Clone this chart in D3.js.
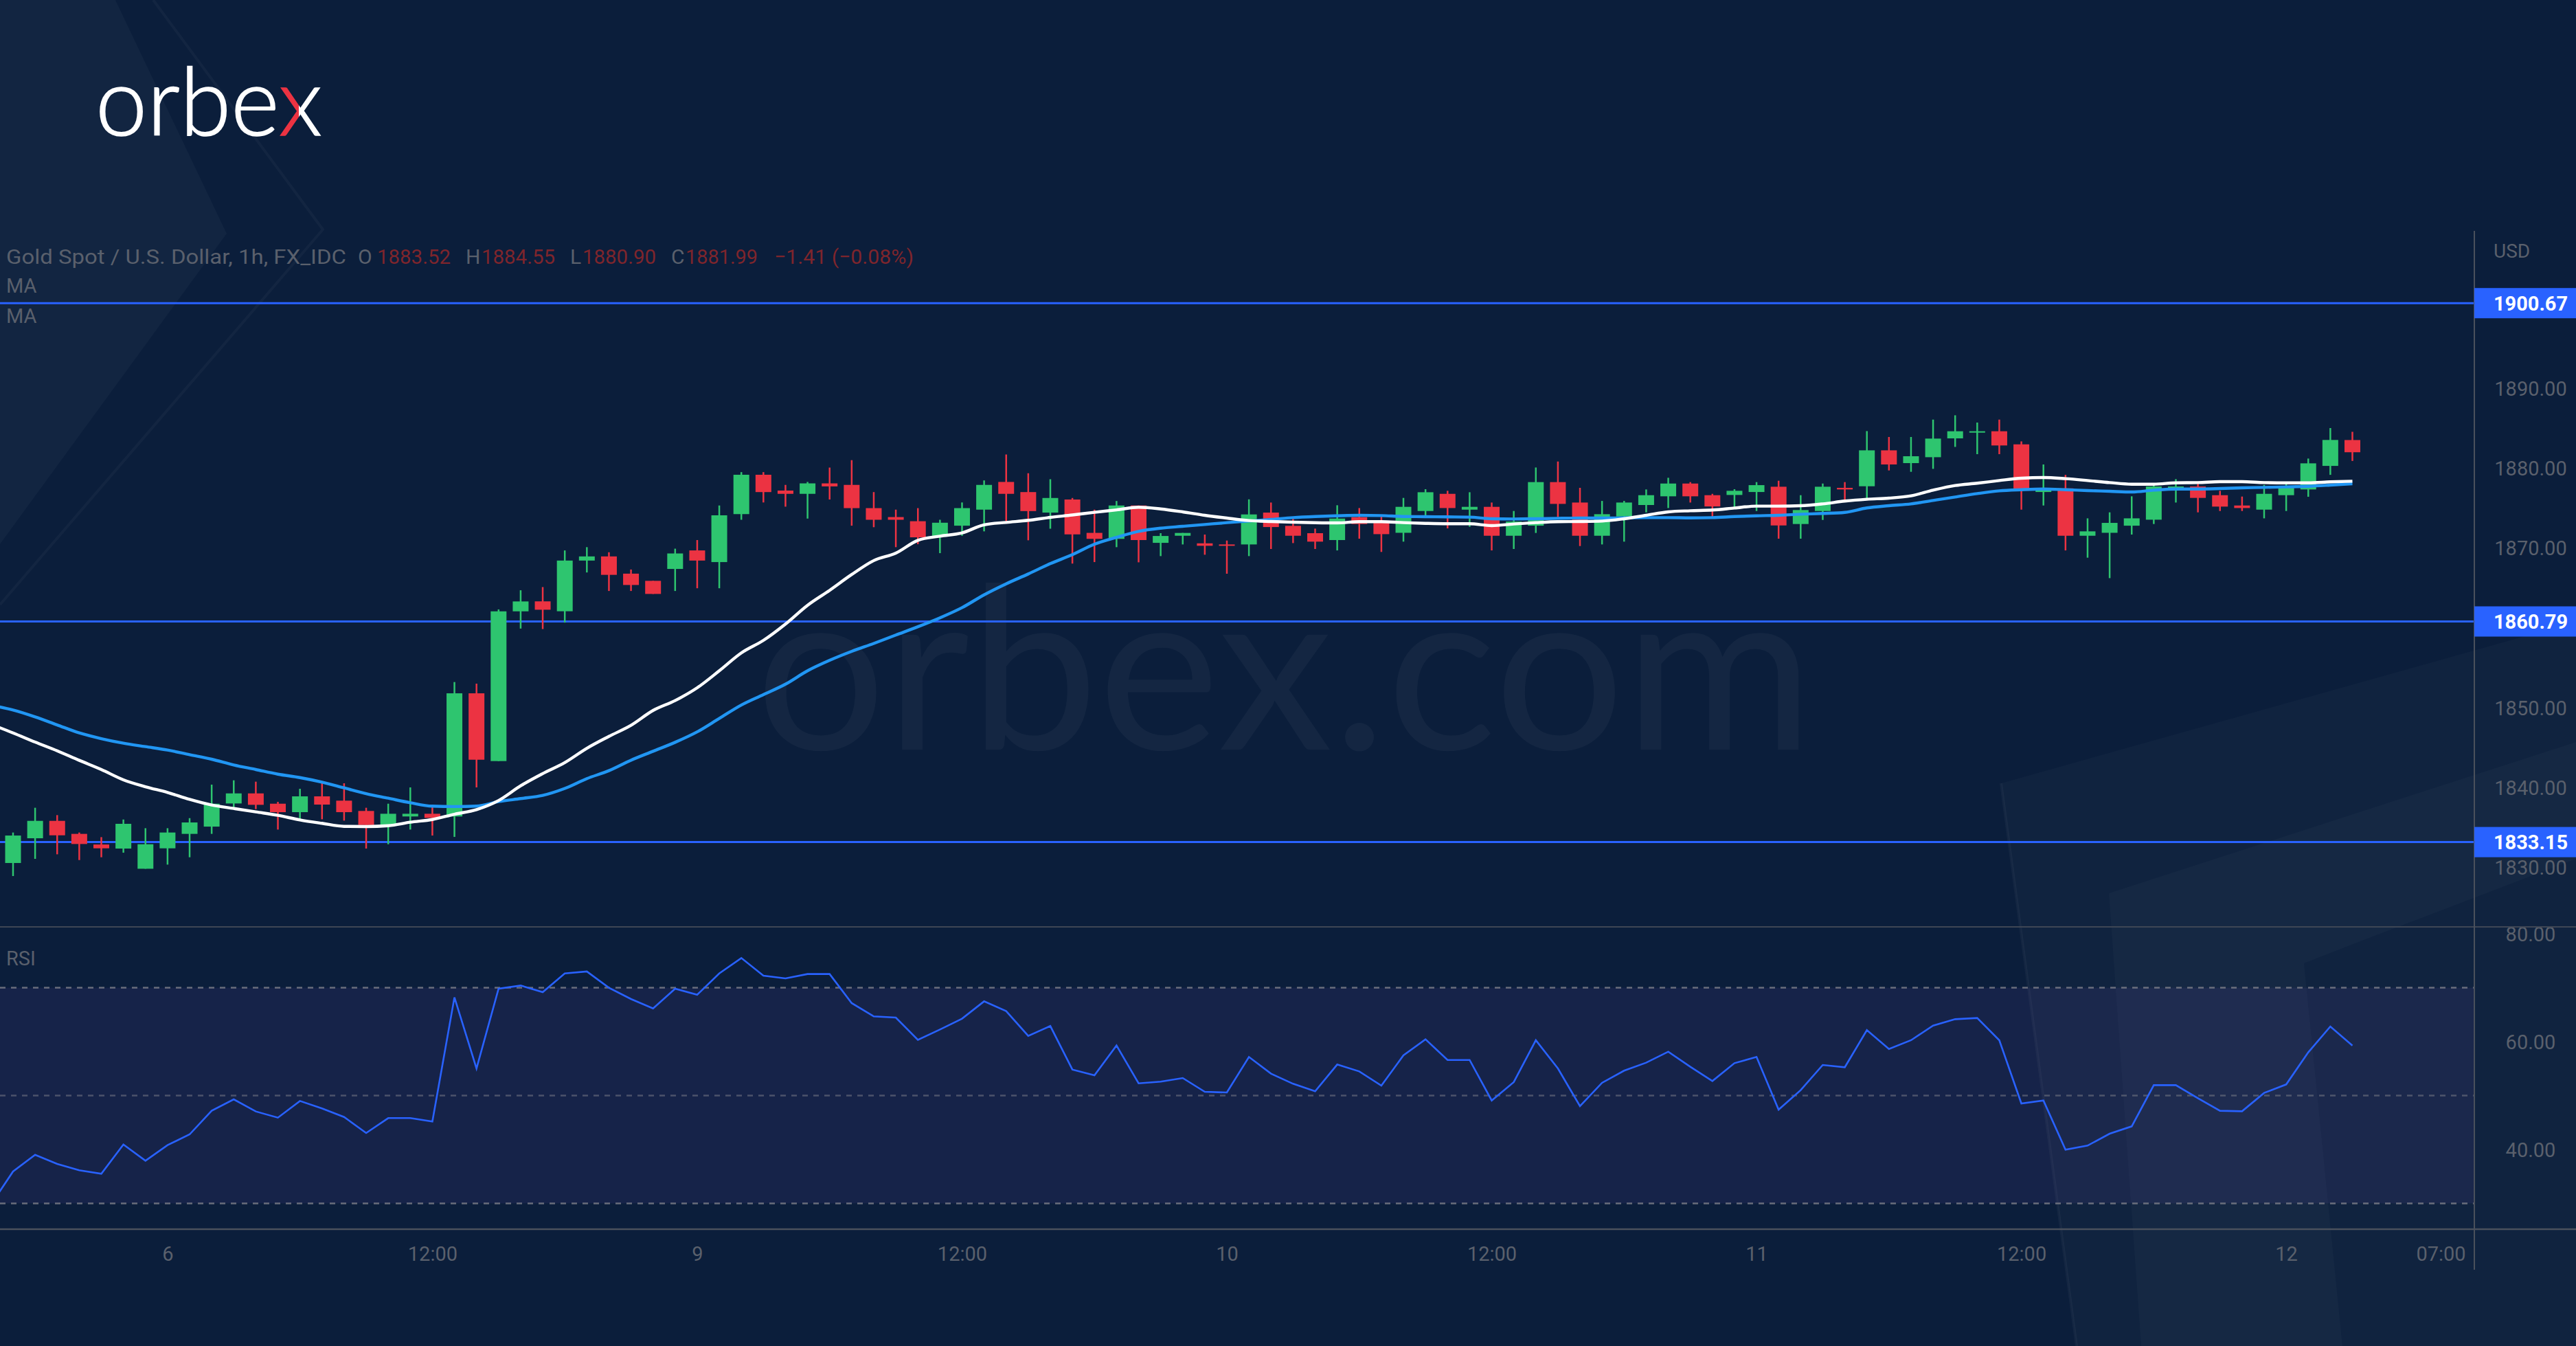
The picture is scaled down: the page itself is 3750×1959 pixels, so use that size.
<!DOCTYPE html>
<html><head><meta charset="utf-8">
<script src="https://cdn.jsdelivr.net/npm/d3@7"></script>
<style>html,body{margin:0;padding:0;background:#0b1e3b;overflow:hidden}</style>
</head><body><svg id="c" width="3750" height="1959"></svg>
<script>
// ---------- DATA ----------
const opens=[1830.53,1833.63,1835.81,1834.18,1832.85,1832.34,1829.81,1832.37,1834.18,1835.09,
1837.99,1839.25,1837.96,1836.90,1838.88,1838.34,1837.05,1835.27,1836.36,1836.70,
1836.36,1851.79,1843.30,1862.06,1863.31,1862.07,1868.42,1868.94,1866.78,1865.88,
1867.37,1869.69,1868.23,1874.24,1879.17,1877.19,1876.78,1878.09,1877.90,1874.99,
1873.87,1873.35,1871.52,1872.79,1874.80,1878.27,1877.00,1874.43,1876.07,1871.89,
1871.14,1875.32,1870.64,1871.53,1870.58,1870.44,1870.44,1874.43,1872.77,1871.85,
1870.99,1873.86,1873.14,1871.90,1874.63,1876.78,1874.80,1875.15,1871.53,1872.79,
1878.25,1875.69,1871.53,1873.94,1875.38,1876.47,1878.07,1876.61,1876.64,1877.01,
1877.67,1873.00,1874.63,1877.53,1877.73,1882.23,1880.63,1881.37,1883.73,1884.47,
1884.62,1882.98,1877.01,1877.47,1871.53,1871.90,1872.79,1873.54,1877.53,1877.70,
1876.61,1875.32,1874.80,1876.61,1877.33,1880.28,1883.52];
const highs=[1834.35,1837.45,1836.53,1834.35,1833.77,1835.98,1834.89,1834.89,1836.15,1840.35,
1840.89,1840.72,1838.19,1839.83,1840.72,1840.52,1837.45,1837.96,1840.00,1837.79,
1853.20,1853.00,1862.30,1864.70,1865.10,1869.69,1870.10,1869.46,1867.30,1865.88,
1869.91,1870.99,1875.32,1879.50,1879.50,1877.90,1878.27,1880.07,1881.00,1877.00,
1874.80,1874.99,1873.53,1875.70,1878.46,1881.71,1879.36,1878.61,1876.26,1874.80,
1875.88,1875.32,1871.85,1871.88,1871.68,1870.93,1876.09,1875.69,1873.86,1872.42,
1875.35,1875.00,1874.00,1876.27,1877.36,1877.16,1876.98,1875.69,1874.63,1880.08,
1880.83,1877.53,1875.89,1875.89,1877.33,1878.79,1878.25,1876.78,1877.36,1878.25,
1878.42,1876.61,1878.07,1878.25,1884.64,1883.90,1883.90,1886.08,1886.62,1885.71,
1886.08,1883.35,1880.46,1879.16,1873.71,1874.46,1876.47,1877.90,1878.62,1878.25,
1877.16,1876.44,1877.90,1878.25,1881.20,1885.02,1884.55];
const lows=[1828.90,1831.05,1831.62,1830.90,1831.25,1831.82,1829.81,1830.33,1831.25,1834.18,
1837.28,1837.28,1834.72,1836.01,1836.01,1835.84,1832.34,1832.88,1834.72,1833.97,
1833.80,1840.00,1843.30,1859.90,1859.84,1860.65,1866.93,1864.61,1864.61,1864.24,
1864.61,1864.95,1864.95,1873.53,1875.70,1875.17,1873.68,1876.07,1872.79,1872.60,
1870.10,1870.47,1869.35,1871.52,1872.08,1873.35,1870.96,1872.41,1868.04,1868.23,
1870.10,1868.20,1868.98,1870.44,1869.15,1866.77,1868.98,1869.87,1870.61,1869.87,
1869.69,1871.16,1869.50,1870.79,1873.77,1872.45,1872.65,1869.69,1869.87,1871.88,
1873.86,1870.24,1870.44,1870.79,1874.46,1875.00,1875.69,1873.91,1874.95,1874.63,
1871.16,1871.16,1873.51,1875.84,1876.24,1879.71,1879.54,1879.91,1882.66,1881.75,
1881.75,1874.80,1875.32,1869.69,1868.78,1866.22,1871.68,1873.00,1875.69,1874.46,
1874.63,1874.63,1873.71,1874.63,1876.41,1879.16,1880.90];
const closes=[1833.97,1835.81,1834.00,1832.91,1832.37,1835.44,1832.88,1834.35,1835.61,1837.96,
1839.25,1837.82,1836.90,1838.88,1837.85,1836.90,1835.29,1836.70,1836.70,1836.18,
1851.79,1843.47,1862.06,1863.30,1862.26,1868.42,1868.94,1866.63,1865.36,1864.24,
1869.31,1868.42,1874.09,1879.17,1877.00,1876.78,1878.09,1877.71,1874.99,1873.53,
1873.53,1871.33,1873.16,1874.99,1877.90,1876.78,1874.62,1876.26,1871.70,1871.14,
1875.32,1870.99,1871.50,1871.88,1870.27,1870.27,1874.20,1872.62,1871.53,1870.79,
1873.68,1873.00,1871.73,1875.15,1876.98,1875.00,1875.15,1871.53,1873.31,1878.25,
1875.52,1871.53,1874.23,1875.69,1876.61,1878.07,1876.47,1875.20,1877.16,1877.87,
1872.82,1874.75,1877.67,1877.33,1882.23,1880.46,1881.49,1883.70,1884.62,1884.62,
1882.84,1877.18,1877.47,1871.53,1872.08,1873.14,1873.71,1877.70,1877.70,1876.27,
1875.18,1875.00,1876.78,1877.53,1880.60,1883.53,1881.99];
// moving averages, first value = bar index -1 (just off the left edge)
const maFast=[1847.90,1846.83,1845.68,1844.59,1843.39,1842.24,1840.95,1840.08,1839.37,1838.50,1837.79,
1837.36,1836.93,1836.50,1835.93,1835.50,1835.12,1835.10,1835.20,1835.64,1835.98,
1836.64,1837.22,1838.36,1840.20,1841.73,1843.11,1844.90,1846.39,1847.78,1849.64,
1850.88,1852.48,1854.61,1856.85,1858.42,1860.47,1862.82,1864.69,1866.67,1868.42,
1869.35,1870.96,1871.48,1871.89,1872.90,1873.20,1873.46,1873.83,1874.13,1874.47,
1874.77,1875.10,1874.89,1874.52,1874.09,1873.74,1873.43,1873.31,1873.23,1873.17,
1873.14,1873.29,1873.29,1873.17,1873.08,1873.03,1873.03,1872.80,1873.00,1873.17,
1873.29,1873.31,1873.37,1873.66,1874.09,1874.52,1874.66,1874.75,1875.00,1875.24,
1875.24,1875.29,1875.52,1875.87,1876.10,1876.24,1876.53,1877.24,1877.82,1878.11,
1878.45,1878.74,1878.82,1878.68,1878.45,1878.19,1877.99,1877.99,1878.16,1878.19,
1878.31,1878.31,1878.19,1878.16,1878.16,1878.28,1878.36];
const maSlow=[1850.30,1849.70,1848.84,1847.83,1846.83,1846.11,1845.54,1845.11,1844.68,1844.10,1843.53,
1842.81,1842.24,1841.66,1841.23,1840.66,1839.94,1839.22,1838.65,1838.08,1837.65,
1837.60,1837.65,1838.22,1838.60,1839.00,1839.87,1841.10,1842.10,1843.41,1844.53,
1845.65,1846.96,1848.64,1850.32,1851.62,1852.93,1854.61,1855.92,1857.04,1858.04,
1859.09,1860.13,1861.25,1862.52,1864.13,1865.51,1866.74,1868.04,1869.16,1870.47,
1871.33,1872.08,1872.48,1872.71,1872.94,1873.17,1873.37,1873.57,1873.80,1873.94,
1874.03,1874.09,1874.06,1873.94,1873.92,1873.89,1873.86,1873.66,1873.63,1873.66,
1873.71,1873.74,1873.74,1873.77,1873.80,1873.80,1873.77,1873.80,1873.94,1874.03,
1874.09,1874.23,1874.32,1874.46,1875.01,1875.29,1875.52,1875.95,1876.38,1876.81,
1877.16,1877.30,1877.38,1877.30,1877.19,1877.10,1877.01,1877.24,1877.38,1877.38,
1877.44,1877.53,1877.59,1877.65,1877.73,1877.88,1878.05];
const rsi=[29.80,35.92,39.02,37.33,36.14,35.50,40.93,37.92,40.81,42.80,47.18,
49.30,47.05,45.90,49.00,47.60,46.03,43.06,45.82,45.82,45.18,
68.20,55.03,69.81,70.40,69.17,72.65,73.00,69.98,67.90,66.16,
69.81,68.70,72.65,75.50,72.23,71.72,
72.53,72.53,67.14,64.67,64.46,60.34,62.25,64.25,67.47,65.65,
61.06,62.89,54.82,53.76,59.28,52.27,52.57,53.25,50.70,50.57,
57.16,54.06,52.19,50.79,55.75,54.48,51.85,57.45,60.43,56.60,
56.60,49.09,52.49,60.26,55.03,48.03,52.36,54.61,56.10,58.13,
55.33,52.70,56.01,57.16,47.39,51.00,55.67,55.25,62.12,58.64,
60.26,62.97,64.16,64.37,60.26,48.54,49.09,39.96,40.72,42.93,
44.29,51.93,51.93,49.51,47.18,47.09,50.49,52.06,58.01,62.80,59.28];
const levels=[1900.67,1860.79,1833.15];
const priceTicks=[1830,1840,1850,1870,1880,1890];
const rsiTicks=[40,60,80];
const rsiLevels=[70,50,30];
const timeTickIdx=[7,19,31,43,55,67,79,91,103,110];
const timeLabels=["6","12:00","9","12:00","10","12:00","11","12:00","12","07:00"];
const headerParts=["Gold Spot / U.S. Dollar, 1h, FX_IDC","O","1883.52","H","1884.55","L","1880.90","C","1881.99","−1.41 (−0.08%)"];
const headerIsValue=[0,0,1,0,1,0,1,0,1,1];
const headerX=[9,521,549,678,701,830,848,977,998,1127];
const headerW=[495,0,107,0,107,0,107,0,105,203];

// ---------- LAYOUT ----------
const W=3750,H=1959, AX=3602;
const PANE_TOP=336, SEP=1349, BOT=1789;
const svg=d3.select("#c");
const FONT="Roboto, 'Liberation Sans', sans-serif";
const BG="#0b1e3b", GRAY="#5a606c";
const UP="#2ec56f", DN="#ec3342", BLUE="#2962ff";

const x=d3.scaleLinear().domain([0,106]).range([19,3424.5]);
const y=d3.scaleLinear().domain([1833.15,1900.67]).range([1225.6,441.2]);
const yr=d3.scaleLinear().domain([30,70]).range([1751.5,1437.5]);

svg.append("rect").attr("width",W).attr("height",H).attr("fill",BG);
const defs=svg.append("defs");
defs.append("clipPath").attr("id","mainClip").append("rect").attr("x",0).attr("y",PANE_TOP).attr("width",AX).attr("height",SEP-PANE_TOP);
defs.append("clipPath").attr("id","rsiClip").append("rect").attr("x",0).attr("y",SEP+1).attr("width",AX).attr("height",BOT-SEP-1);
defs.append("clipPath").attr("id","rsiAxClip").append("rect").attr("x",AX).attr("y",SEP+1).attr("width",W-AX).attr("height",BOT-SEP-1);
const lg=defs.append("linearGradient").attr("id","xgrad").attr("gradientUnits","userSpaceOnUse")
  .attr("x1",380).attr("x2",490).attr("y1",0).attr("y2",0);
lg.append("stop").attr("offset","0.5").attr("stop-color","#ec3342");
lg.append("stop").attr("offset","0.5").attr("stop-color","#ffffff");

// decorative background shapes
const deco=svg.append("g");
const poly=(pts,op)=>deco.append("path").attr("d","M"+pts.map(p=>p.join(",")).join("L")+"Z").attr("fill","#ffffff").attr("fill-opacity",op);
const pline=(pts,op,w)=>deco.append("path").attr("d","M"+pts.map(p=>p.join(",")).join("L")).attr("fill","none").attr("stroke","#ffffff").attr("stroke-opacity",op).attr("stroke-width",w);
poly([[0,0],[168,0],[330,340],[0,792]],0.03);
pline([[223,0],[470,334],[0,880]],0.035,4);
poly([[2913,1140],[3750,905],[3750,1959],[3023,1959]],0.022);
poly([[3070,1300],[3750,1080],[3750,1250],[3436,1370],[3354,1402],[3410,1959],[3117,1959]],0.025);
pline([[2913,1140],[3023,1959]],0.04,4);

// watermark
svg.append("text").attr("x",1100).attr("y",1091).attr("font-family","Lato, 'Noto Sans', sans-serif").attr("font-weight",400)
  .attr("font-size",330).attr("textLength",1540).attr("lengthAdjust","spacingAndGlyphs")
  .attr("fill","#ffffff").attr("fill-opacity",0.04).text("orbex.com");

// logo
const logo=svg.append("text").attr("x",139).attr("y",197).attr("font-family","Lato, 'Noto Sans', sans-serif").attr("font-weight",300)
  .attr("font-size",138).attr("textLength",330).attr("lengthAdjust","spacingAndGlyphs")
  .attr("fill","#ffffff").attr("stroke","#ffffff").attr("stroke-width",1.6);
logo.append("tspan").text("orbe");
logo.append("tspan").attr("fill","url(#xgrad)").attr("stroke","url(#xgrad)").text("x");

// header
const hdr=svg.append("g").attr("font-family",FONT).attr("font-size",30);
headerParts.forEach((p,i)=>{
  const t=hdr.append("text").attr("x",headerX[i]).attr("y",384).attr("fill",headerIsValue[i]?"#7e252c":GRAY).text(p);
  if(headerW[i]) t.attr("textLength",headerW[i]).attr("lengthAdjust","spacingAndGlyphs");
});
svg.append("text").attr("x",9).attr("y",426).attr("font-family",FONT).attr("font-size",29).attr("fill",GRAY).text("MA");
svg.append("text").attr("x",9).attr("y",470).attr("font-family",FONT).attr("font-size",29).attr("fill",GRAY).text("MA");

// ---------- RSI PANE ----------
const rp=svg.append("g").attr("clip-path","url(#rsiClip)");
rp.append("rect").attr("x",0).attr("width",AX).attr("y",yr(70)).attr("height",yr(30)-yr(70)).attr("fill","#7e57c2").attr("fill-opacity",0.1);
rp.selectAll("line.lv").data(rsiLevels).join("line").attr("x1",0).attr("x2",AX).attr("y1",d=>yr(d)).attr("y2",d=>yr(d))
  .attr("stroke","#787b86").attr("stroke-width",2.5).attr("stroke-dasharray","8,8").attr("opacity",d=>d===50?0.55:0.85);
rp.append("path").datum(rsi).attr("fill","none").attr("stroke","#2962ff").attr("stroke-width",2.6)
  .attr("d",d3.line().x((d,i)=>x(i-1)).y(d=>yr(d)));
svg.append("text").attr("x",9).attr("y",1405).attr("font-family",FONT).attr("font-size",29).attr("fill",GRAY).text("RSI");

// ---------- MAIN PANE ----------
const mp=svg.append("g").attr("clip-path","url(#mainClip)");
mp.selectAll("line.lvl").data(levels).join("line").attr("x1",0).attr("x2",AX).attr("y1",d=>y(d)).attr("y2",d=>y(d))
  .attr("stroke",BLUE).attr("stroke-width",3);
const idx=d3.range(opens.length);
const cg=mp.append("g");
cg.selectAll("line").data(idx).join("line").attr("x1",i=>x(i)).attr("x2",i=>x(i))
  .attr("y1",i=>y(highs[i])).attr("y2",i=>y(lows[i])).attr("stroke",i=>closes[i]>=opens[i]?UP:DN).attr("stroke-width",2.5);
const bw=23;
cg.selectAll("rect").data(idx).join("rect").attr("x",i=>x(i)-bw/2).attr("width",bw)
  .attr("y",i=>y(Math.max(opens[i],closes[i]))).attr("height",i=>Math.max(2,Math.abs(y(opens[i])-y(closes[i]))))
  .attr("fill",i=>closes[i]>=opens[i]?UP:DN);
const maLine=d3.line().curve(d3.curveMonotoneX).x((d,i)=>x(i-1)).y(d=>y(d));
mp.append("path").datum(maSlow).attr("fill","none").attr("stroke","#2196f3").attr("stroke-width",4.4).attr("d",maLine);
mp.append("path").datum(maFast).attr("fill","none").attr("stroke","#ffffff").attr("stroke-width",4.4).attr("d",maLine);

// ---------- AXES ----------
svg.append("line").attr("x1",0).attr("x2",W).attr("y1",SEP).attr("y2",SEP).attr("stroke","#3e4655").attr("stroke-width",2);
svg.append("line").attr("x1",0).attr("x2",W).attr("y1",BOT).attr("y2",BOT).attr("stroke","#4a505c").attr("stroke-width",2.5);
svg.append("line").attr("x1",AX).attr("x2",AX).attr("y1",PANE_TOP).attr("y2",1848).attr("stroke","#4a505c").attr("stroke-width",2);

const pa=svg.append("g").attr("transform",`translate(${AX},0)`).call(d3.axisRight(y).tickValues(priceTicks).tickFormat(d3.format(".2f")).tickSize(0));
pa.select(".domain").remove();
pa.selectAll("text").attr("x",82).attr("text-anchor","middle").attr("dy","0.36em").attr("font-family",FONT).attr("font-size",29).attr("fill",GRAY);
svg.append("text").attr("x",3630).attr("y",375).attr("font-family",FONT).attr("font-size",28).attr("fill",GRAY).text("USD");

const ra=svg.append("g").attr("clip-path","url(#rsiAxClip)").append("g").attr("transform",`translate(${AX},0)`)
  .call(d3.axisRight(yr).tickValues(rsiTicks).tickFormat(d3.format(".2f")).tickSize(0));
ra.select(".domain").remove();
ra.selectAll("text").attr("x",82).attr("text-anchor","middle").attr("dy","0.36em").attr("font-family",FONT).attr("font-size",29).attr("fill",GRAY);

const ta=svg.append("g").attr("transform",`translate(0,${BOT})`)
  .call(d3.axisBottom(x).tickValues(timeTickIdx).tickFormat((d,i)=>timeLabels[i]).tickSize(0));
ta.select(".domain").remove();
ta.selectAll("text").attr("y",46).attr("dy",0).attr("font-family",FONT).attr("font-size",29).attr("fill",GRAY);

// level badges
const bg=svg.append("g").selectAll("g").data(levels).join("g").attr("transform",d=>`translate(${AX},${y(d)})`);
bg.append("rect").attr("x",0).attr("y",-22).attr("width",W-AX).attr("height",44).attr("fill",BLUE);
bg.append("text").attr("x",82).attr("text-anchor","middle").attr("dy","0.36em").attr("font-family",FONT).attr("font-weight",700)
  .attr("font-size",29).attr("fill","#ffffff").text(d=>d3.format(".2f")(d));
</script></body></html>
